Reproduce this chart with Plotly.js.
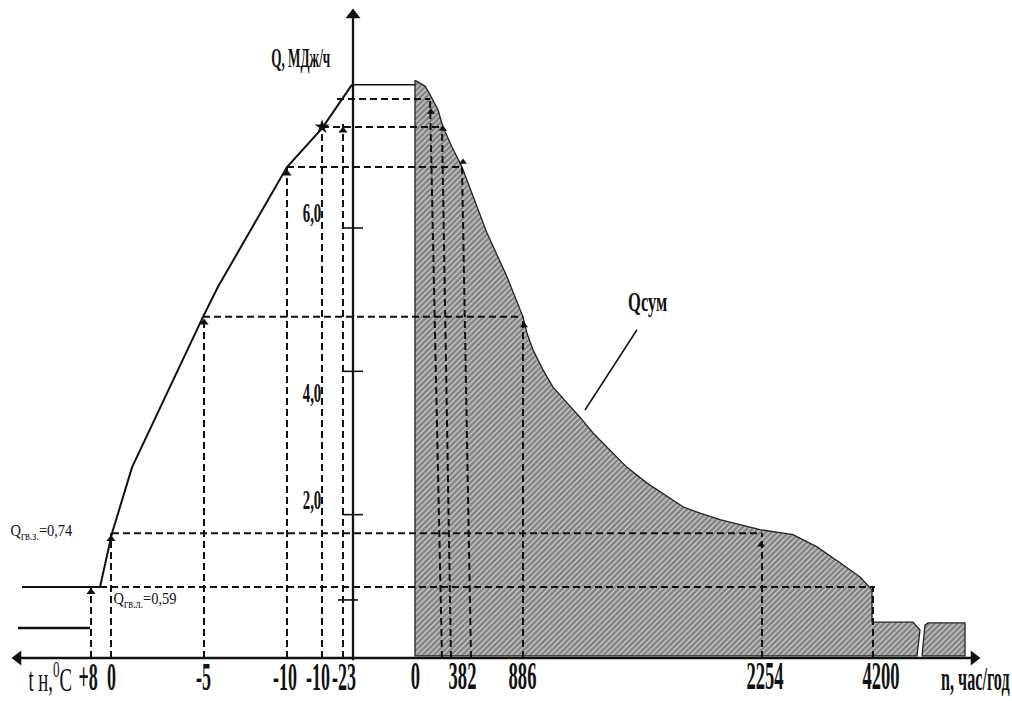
<!DOCTYPE html>
<html>
<head>
<meta charset="utf-8">
<script src="https://cdn.plot.ly/plotly-3.0.1.min.js"></script>
<style>
  html, body { margin: 0; padding: 0; background: #fff; }
  #chart { width: 1012px; height: 701px; }
</style>
</head>
<body>
<div id="chart"></div>
<script>
// ---------------- DATA (schematic positions along the horizontal axis, Q in MJ/h) -------------
// Left part: load vs outdoor temperature
const tempLabels = ['+8', '0', '-5', '-10', '-10', '-23'];
const tempPos    = [91, 111, 204, 287, 322, 343];
const tempLabelPos = [88, 111, 203, 285, 318, 344];
const tempQ      = [0.99, 1.74, 4.76, 6.85, 7.41, 7.45];

const loadCurveX = [22, 100, 112, 132, 203, 218, 287, 322, 352];
const loadCurveQ = [0.99, 0.99, 1.74, 2.66, 4.76, 5.18, 6.85, 7.39, 8.0];
const summerLineX = [18, 90];
const summerLineQ = [0.42, 0.42];
const peakLineX = [352, 415];
const peakLineQ = [8.0, 8.0];

// Right part: load duration (hours per year)
const hourLabels = ['0', '382', '886', '2254', '4200'];
const hourPos    = [415, 462, 522, 765, 881];

const durationX = [415, 425, 430, 438, 443, 452, 462, 487, 507, 523, 527, 533, 543, 553, 567, 580, 593, 607, 627, 647, 667, 683, 700, 720, 740, 760, 793, 817, 840, 860, 872, 872, 913, 920, 917, 415, 415];
const durationQ = [8.06, 7.98, 7.86, 7.65, 7.41, 7.13, 6.85, 5.93, 5.32, 4.76, 4.53, 4.30, 4.02, 3.78, 3.56, 3.36, 3.14, 2.94, 2.66, 2.44, 2.25, 2.11, 2.02, 1.93, 1.86, 1.79, 1.72, 1.55, 1.33, 1.13, 0.95, 0.50, 0.50, 0.39, 0.03, 0.03, 8.06];
const tailX = [922, 925, 928, 965, 965, 922];
const tailQ = [0.03, 0.46, 0.49, 0.49, 0.03, 0.03];

// Projection lines (horizontal levels)
const levelQ    = [7.80, 7.41, 6.85, 4.76, 1.74, 0.99];
const levelFrom = [337, 322, 287, 203, 112, 100];
const levelTo   = [430, 443, 462, 523, 762, 875];
// Verticals on the duration side
const durTopX = [430, 442, 462, 523, 762, 873];
const durBotX = [442, 451, 471, 523, 762, 873];
const durTopQ = [7.80, 7.41, 6.85, 4.76, 1.74, 0.99];

// arrow tips
const leftArrowX  = [91, 111, 204, 287, 343];
const leftArrowQ  = [0.92, 1.66, 4.68, 6.76, 7.36];
const starX = [322], starQ = [7.41];
const rightArrowX = [431, 443, 463, 524, 761];
const rightArrowQ = [7.62, 7.38, 6.92, 4.64, 1.58];

// Q-axis ticks
const qTicks = [6.0, 4.0, 2.0];
const qTickLabels = ['6,0', '4,0', '2,0'];
const qTickLabelY = [6.21, 3.70, 2.20];
const qMinorTick = [0.81];

const qLevelLabels = ['Q<sub>гв.з.</sub>=0,74', 'Q<sub>гв.л.</sub>=0,59'];

// ---------------- BUILD ----------------
const BLACK = '#111';
const dashX = [], dashY = [];
levelQ.forEach((q, i) => { dashX.push(levelFrom[i], levelTo[i], null); dashY.push(q, q, null); });
tempPos.forEach((x, i) => { dashX.push(x, x, null); dashY.push(0, tempQ[i], null); });
durTopX.forEach((x, i) => { dashX.push(durBotX[i], x, null); dashY.push(0, durTopQ[i], null); });

const tickX = [], tickY = [];
qTicks.forEach(q => { tickX.push(343, 363, null); tickY.push(q, q, null); });
qMinorTick.forEach(q => { tickX.push(338, 358, null); tickY.push(q, q, null); });

const hatch = { shape: '/', bgcolor: '#848484', fgcolor: '#d2d2d2', size: 4, solidity: 0.3 };
const traces = [
  { x: durationX, y: durationQ, mode: 'lines', fill: 'toself', fillcolor: '#8f8f8f',
    fillpattern: hatch, line: { color: '#222', width: 1.3 } },
  { x: tailX, y: tailQ, mode: 'lines', fill: 'toself', fillcolor: '#8f8f8f',
    fillpattern: hatch, line: { color: '#222', width: 1.3 } },
  { x: dashX, y: dashY, mode: 'lines', line: { color: BLACK, width: 2, dash: '7px,4px' } },
  { x: loadCurveX, y: loadCurveQ, mode: 'lines', line: { color: BLACK, width: 2 } },
  { x: summerLineX, y: summerLineQ, mode: 'lines', line: { color: BLACK, width: 2.5 } },
  { x: peakLineX, y: peakLineQ, mode: 'lines', line: { color: BLACK, width: 1.5 } },
  // axes
  { x: [14, 976], y: [0, 0], mode: 'lines', line: { color: BLACK, width: 2.3 } },
  { x: [353, 353], y: [-0.03, 8.95], mode: 'lines', line: { color: BLACK, width: 2.3 } },
  { x: [18], y: [0], mode: 'markers', marker: { symbol: 'triangle-left', size: 13, color: BLACK } },
  { x: [974], y: [0], mode: 'markers', marker: { symbol: 'triangle-right', size: 13, color: BLACK } },
  { x: [353], y: [8.97], mode: 'markers', marker: { symbol: 'triangle-up', size: 13, color: BLACK } },
  { x: tickX, y: tickY, mode: 'lines', line: { color: BLACK, width: 1.6 } },
  // leader line for Qсум
  { x: [637, 585], y: [4.58, 3.46], mode: 'lines', line: { color: BLACK, width: 1.5 } },
  // arrow tips
  { x: leftArrowX, y: leftArrowQ, mode: 'markers', marker: { symbol: 'triangle-up', size: 8, color: BLACK } },
  { x: rightArrowX, y: rightArrowQ, mode: 'markers', marker: { symbol: 'triangle-up', size: 7, color: BLACK } },
  { x: starX, y: starQ, mode: 'markers', marker: { symbol: 'star', size: 11, color: BLACK } }
];

const SERIF = 'Liberation Serif, Times New Roman, serif';
const ann = [];
const annScale = [];
function addText(text, x, y, size, bold, sx, sy) {
  ann.push({ text: text, x: x, y: y, xref: 'x', yref: 'y', showarrow: false,
    xanchor: 'center', yanchor: 'middle',
    font: { family: SERIF, size: size, color: BLACK, weight: bold ? 'bold' : 'normal' } });
  annScale.push([sx, sy]);
}
addText('Q, МДж/ч', 300, 8.37, 24, true, 0.55, 1.1);
qTicks.forEach((q, i) => addText(qTickLabels[i], 312, qTickLabelY[i], 24, true, 0.62, 1.1));
addText(qLevelLabels[0], 41, 1.76, 17, false, 0.85, 1.0);
addText(qLevelLabels[1], 145, 0.81, 17, false, 0.85, 1.0);
addText('Qсум', 647, 4.97, 25, true, 0.66, 1.1);
addText('t н,<sup>0</sup>C', 50, -0.27, 26, false, 0.72, 1.3);
tempLabels.forEach((t, i) => addText(t, tempLabelPos[i], -0.25, 30, true, 0.6, 1.35));
hourLabels.forEach((t, i) => addText(t, hourPos[i], -0.25, 30, true, 0.62, 1.35));
addText('n, час/год', 975, -0.29, 26, true, 0.62, 1.3);

// condensed look of the original lettering
let css = '';
annScale.forEach((s, i) => {
  css += '.annotation[data-index="' + i + '"] .annotation-text{transform-box:fill-box;transform-origin:center;transform:scale(' + s[0] + ',' + s[1] + ');}\n';
});
const st = document.createElement('style'); st.textContent = css; document.head.appendChild(st);

const layout = {
  width: 1012, height: 701,
  margin: { l: 0, r: 0, t: 0, b: 0 },
  paper_bgcolor: '#fff', plot_bgcolor: '#fff',
  showlegend: false,
  xaxis: { range: [0, 1012], visible: false, fixedrange: true },
  yaxis: { range: [-0.6, 9.181], visible: false, fixedrange: true },
  annotations: ann
};
Plotly.newPlot('chart', traces, layout, { staticPlot: true, displayModeBar: false });
</script>
</body>
</html>
